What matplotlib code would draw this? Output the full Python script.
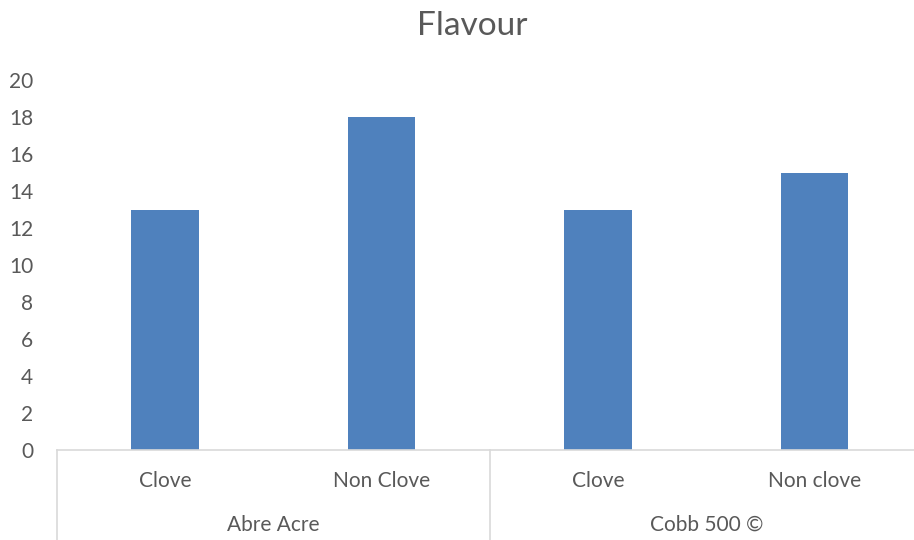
import matplotlib.pyplot as plt
from matplotlib.transforms import blended_transform_factory

categories = ["Clove", "Non Clove", "Clove", "Non clove"]
groups = ["Abre Acre", "Cobb 500 ©"]
values = [13, 18, 13, 15]
y_ticks = [0, 2, 4, 6, 8, 10, 12, 14, 16, 18, 20]

TEXT = "#595959"
BAR = "#4f81bd"
LINE = "#d9d9d9"

plt.rcParams['font.family'] = ['Lato', 'DejaVu Sans']

fig = plt.figure(figsize=(9.14, 5.4), dpi=100)
ax = fig.add_axes([57 / 914, 90 / 540, (914 - 57) / 914, 370 / 540])

x = list(range(len(categories)))
ax.bar(x, values, width=0.313, color=BAR, zorder=2)

ax.set_ylim(0, 20)
ax.set_xlim(-0.5, 3.46)
ax.set_yticks(y_ticks)
ax.set_yticklabels([str(t) for t in y_ticks], fontsize=15, color=TEXT)
ax.tick_params(axis='y', length=0, pad=17)
for lbl in ax.get_yticklabels():
    lbl.set_horizontalalignment('right')
ax.set_xticks([])

for side in ["top", "right", "left"]:
    ax.spines[side].set_visible(False)
ax.spines["bottom"].set_color(LINE)
ax.spines["bottom"].set_linewidth(1.2)

# multi-level category axis
trans = blended_transform_factory(ax.transData, ax.transAxes)
drop = -95 / 370
for xi, name in zip(x, categories):
    ax.text(xi, -31 / 370, name, transform=trans, ha='center', va='center',
            fontsize=15, color=TEXT)
for gi, name in enumerate(groups):
    ax.text(gi * 2 + 0.5, -75 / 370, name, transform=trans, ha='center',
            va='center', fontsize=15, color=TEXT)
for xb in [-0.5, 1.5]:
    ax.plot([xb, xb], [0, drop], transform=trans, color=LINE, lw=1.2,
            clip_on=False)

fig.text(472 / 914, 1 - 26 / 540, "Flavour", ha='center', va='center',
         fontsize=24, color=TEXT)

plt.savefig("out.png", dpi=100)
